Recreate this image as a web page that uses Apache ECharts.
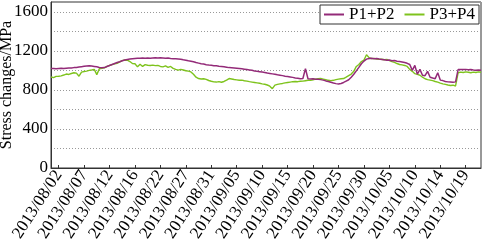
<!DOCTYPE html>
<html>
<head>
<meta charset="utf-8">
<script src="https://cdn.jsdelivr.net/npm/echarts@6/dist/echarts.min.js"></script>
<style>
  html, body { margin: 0; padding: 0; background: #fff; }
  #chart { width: 484px; height: 248px; }
</style>
</head>
<body>
<div id="chart"></div>
<script>
// tick labels, one every 10 samples starting at sample 3
var tickLabels = [
  "2013/08/02", "2013/08/07", "2013/08/12", "2013/08/16", "2013/08/22",
  "2013/08/27", "2013/08/31", "2013/09/05", "2013/09/10", "2013/09/15",
  "2013/09/20", "2013/09/25", "2013/09/30", "2013/10/05", "2013/10/10",
  "2013/10/14", "2013/10/19"
];
var firstTick = 3;
var tickStep = 10;

// P1+P2 (MPa)
var p12 = [
  1018, 1020, 1016, 1019, 1021, 1018, 1022, 1025, 1024, 1028,
  1030, 1034, 1038, 1042, 1045, 1048, 1044, 1040, 1036, 1030,
  1026, 1028, 1040, 1050, 1060, 1070, 1080, 1088, 1098, 1106,
  1112, 1116, 1120, 1122, 1124, 1123, 1126, 1124, 1126, 1125,
  1127, 1128, 1126, 1129, 1127, 1125, 1126, 1122, 1120, 1118,
  1116, 1114, 1108, 1104, 1098, 1094, 1088, 1080, 1074, 1068,
  1064, 1058, 1054, 1052, 1048, 1046, 1042, 1040, 1036, 1032,
  1028, 1026, 1024, 1022, 1020, 1016, 1012, 1008, 1004, 1000,
  994, 990, 986, 982, 978, 972, 968, 964, 960, 954,
  950, 946, 940, 936, 932, 928, 922, 918, 914, 916,
  1018, 914, 912, 914, 910, 908, 905, 900, 892, 886,
  878, 870, 864, 860, 866, 876, 890, 904, 930, 960,
  995, 1030, 1068, 1095, 1115, 1122, 1124, 1120, 1122, 1116,
  1112, 1108, 1104, 1106, 1098, 1100, 1094, 1090, 1086, 1080,
  1072, 1060, 1000, 1050, 960, 1010, 950, 945, 990, 930,
  922, 915, 975, 900, 895, 886, 882, 880, 878, 882,
  1008, 1010, 1008, 1010, 1007, 1008, 1004, 1002, 1003, 1000
];

// P3+P4 (MPa)
var p34 = [
  932, 925, 938, 940, 944, 952, 962, 958, 968, 975,
  972, 940, 982, 988, 992, 1000, 1004, 1010, 956, 1016,
  1022, 1025, 1040, 1050, 1058, 1066, 1072, 1086, 1100, 1106,
  1104, 1090, 1070, 1068, 1036, 1062, 1040, 1058, 1052, 1050,
  1054, 1048, 1050, 1040, 1036, 1045, 1030, 1040, 1020, 1010,
  1002, 1010, 1004, 996, 992, 984, 960, 930, 916, 912,
  914, 908, 896, 888, 882, 880, 884, 878, 886, 900,
  916, 912, 906, 902, 898, 900, 894, 890, 884, 880,
  876, 872, 868, 862, 858, 850, 838, 812, 848, 856,
  862, 866, 872, 876, 880, 884, 886, 884, 888, 890,
  894, 898, 897, 904, 910, 914, 916, 910, 904, 898,
  895, 898, 905, 910, 914, 916, 930, 946, 962, 990,
  1040, 1060, 1090, 1106, 1160, 1130, 1120, 1122, 1116, 1112,
  1114, 1108, 1112, 1100, 1090, 1082, 1070, 1060, 1056, 1050,
  1040, 1010, 990, 966, 958, 950, 930, 914, 905, 900,
  895, 886, 880, 870, 862, 856, 850, 845, 848, 840,
  975, 982, 978, 984, 980, 976, 982, 978, 984, 980
];

var categories = p12.map(function (v, i) {
  var k = i - firstTick;
  return (k >= 0 && k % tickStep === 0) ? tickLabels[k / tickStep] : "";
});

var serif = "'Liberation Serif', 'DejaVu Serif', serif";
var hasLabel = function (i, v) { return v !== ""; };

var chart = echarts.init(document.getElementById("chart"), null, { renderer: "canvas" });
chart.setOption({
  animation: false,
  backgroundColor: "#fff",
  textStyle: { fontFamily: serif },
  grid: {
    left: 51, right: 3, top: 2, bottom: 80,
    show: true, borderColor: "#333", borderWidth: 1,
    outerBoundsMode: "none"
  },
  legend: {
    right: 5, top: 5,
    orient: "horizontal",
    backgroundColor: "#fff",
    borderColor: "#333", borderWidth: 1,
    borderRadius: 0,
    padding: [1, 4, 1, 4],
    itemGap: 10,
    itemWidth: 20, itemHeight: 2,
    icon: "rect",
    textStyle: { fontFamily: serif, fontSize: 17, color: "#000" },
    data: ["P1+P2", "P3+P4"]
  },
  xAxis: {
    type: "category",
    boundaryGap: false,
    data: categories,
    axisLine: { lineStyle: { color: "#333", width: 1 } },
    axisTick: { inside: true, length: 3, interval: hasLabel, lineStyle: { color: "#333" } },
    axisLabel: {
      interval: hasLabel,
      rotate: 57,
      margin: 4,
      fontFamily: serif, fontSize: 17, color: "#000"
    },
    splitLine: { show: false }
  },
  yAxis: {
    type: "value",
    min: 0, max: 1700, interval: 200,
    name: "Stress changes/MPa",
    nameLocation: "middle",
    nameRotate: 90,
    nameGap: 36,
    nameMoveOverlap: false,
    nameTextStyle: { fontFamily: serif, fontSize: 16, color: "#000" },
    axisLine: { show: true, lineStyle: { color: "#333", width: 1 } },
    axisTick: { show: false },
    axisLabel: {
      fontFamily: serif, fontSize: 17, color: "#000", margin: 3,
      formatter: function (v) { return (v % 400 === 0 && v <= 1600) ? String(v) : ""; }
    },
    splitLine: { show: true, lineStyle: { color: "#999", type: [1, 2], width: 1 } }
  },
  series: [
    {
      name: "P1+P2", type: "line", data: p12, z: 3,
      showSymbol: false, symbol: "none",
      color: "#932a78",
      lineStyle: { color: "#932a78", width: 1.5 }
    },
    {
      name: "P3+P4", type: "line", data: p34, z: 2,
      showSymbol: false, symbol: "none",
      color: "#7ec31d",
      lineStyle: { color: "#7ec31d", width: 1.4 }
    }
  ]
});
</script>
</body>
</html>
